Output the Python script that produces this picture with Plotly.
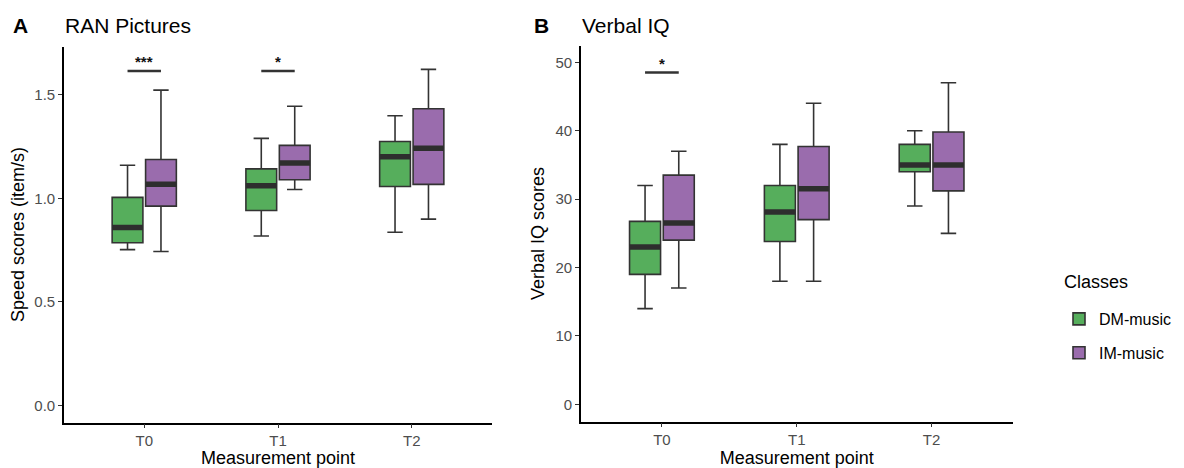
import plotly.graph_objects as go

# ---------------- data ----------------
timepoints = ["T0", "T1", "T2"]
classes = ["DM-music", "IM-music"]

# Panel A: RAN Pictures (speed scores, item/s)
ran_dm_low = [0.752, 0.818, 0.836]
ran_dm_q1 = [0.785, 0.941, 1.057]
ran_dm_med = [0.859, 1.060, 1.200]
ran_dm_q3 = [1.004, 1.142, 1.274]
ran_dm_high = [1.159, 1.289, 1.398]

ran_im_low = [0.743, 1.042, 0.899]
ran_im_q1 = [0.962, 1.089, 1.067]
ran_im_med = [1.067, 1.170, 1.241]
ran_im_q3 = [1.187, 1.255, 1.432]
ran_im_high = [1.522, 1.444, 1.622]

# Panel B: Verbal IQ scores
viq_dm_low = [14, 18, 29]
viq_dm_q1 = [19.0, 23.8, 34.0]
viq_dm_med = [23.0, 28.1, 35.0]
viq_dm_q3 = [26.75, 32.0, 38.0]
viq_dm_high = [32, 38, 40]

viq_im_low = [17, 18, 25]
viq_im_q1 = [24.0, 27.0, 31.2]
viq_im_med = [26.5, 31.5, 35.0]
viq_im_q3 = [33.5, 37.7, 39.8]
viq_im_high = [37, 44, 47]

# significance annotations: (timepoint index, bar height, label)
ran_sig_idx = [0, 1]
ran_sig_y = [1.614, 1.614]
ran_sig_lbl = ["***", "*"]
viq_sig_idx = [0]
viq_sig_y = [48.5]
viq_sig_lbl = ["*"]

ran_yticks = [0.0, 0.5, 1.0, 1.5]
viq_yticks = [0, 10, 20, 30, 40, 50]

# ---------------- style ----------------
GREEN = "#56ae5c"
PURPLE = "#9a6cad"
OUTLINE = "#333333"
FONT = "Liberation Sans, Arial, sans-serif"
DODGE = 0.125
BOXW = 0.23

# page body has a default 8px margin: lay out in window pixels, shifted
OFF = 8
W, H = 1184 - OFF, 468 - OFF


def px(x):
    return (x - OFF) / W


def py(y):
    return 1 - (y - OFF) / H


fig = go.Figure()


def add_panel(xa, ya, dm, im, showlegend):
    for name, stats, col, off in [(classes[0], dm, GREEN, -DODGE), (classes[1], im, PURPLE, DODGE)]:
        low, q1, med, q3, high = stats
        xs = [i + off for i in range(len(timepoints))]
        fig.add_trace(go.Box(
            x=xs, q1=q1, median=med, q3=q3, lowerfence=low, upperfence=high,
            width=BOXW, whiskerwidth=0.5, fillcolor=col,
            line=dict(color=OUTLINE, width=1.6),
            name=name, legendgroup=name, showlegend=showlegend,
            xaxis=xa, yaxis=ya, hoverinfo="skip",
        ))
        # thick median bars
        mx, my = [], []
        for x, m in zip(xs, med):
            mx += [x - BOXW / 2, x + BOXW / 2, None]
            my += [m, m, None]
        fig.add_trace(go.Scatter(
            x=mx, y=my, mode="lines", line=dict(color="#2e2e2e", width=5.5),
            showlegend=False, xaxis=xa, yaxis=ya, hoverinfo="skip",
        ))


def add_sig(xa, ya, idxs, ys, lbls):
    for i, y, l in zip(idxs, ys, lbls):
        fig.add_trace(go.Scatter(
            x=[i - DODGE, i + DODGE], y=[y, y], mode="lines",
            line=dict(color="#333333", width=2.5), showlegend=False,
            xaxis=xa, yaxis=ya, hoverinfo="skip",
        ))
        fig.add_annotation(x=i, y=y, xref=xa, yref=ya, text="<b>" + l + "</b>",
                           showarrow=False, yanchor="bottom", yshift=-1,
                           font=dict(family=FONT, size=15, color="#111111"))


add_panel("x", "y",
          (ran_dm_low, ran_dm_q1, ran_dm_med, ran_dm_q3, ran_dm_high),
          (ran_im_low, ran_im_q1, ran_im_med, ran_im_q3, ran_im_high), True)
add_panel("x2", "y2",
          (viq_dm_low, viq_dm_q1, viq_dm_med, viq_dm_q3, viq_dm_high),
          (viq_im_low, viq_im_q1, viq_im_med, viq_im_q3, viq_im_high), False)
add_sig("x", "y", ran_sig_idx, ran_sig_y, ran_sig_lbl)
add_sig("x2", "y2", viq_sig_idx, viq_sig_y, viq_sig_lbl)

axis_common = dict(
    showline=True, linecolor="black", linewidth=1.6, ticks="outside",
    ticklen=4, tickcolor="#333333", tickwidth=1.2, showgrid=False, zeroline=False,
    automargin=False,
    tickfont=dict(family=FONT, size=15, color="#4d4d4d"),
)

fig.update_layout(
    width=W, height=H, margin=dict(l=0, r=0, t=0, b=0),
    paper_bgcolor="white", plot_bgcolor="white",
    boxmode="overlay",
    font=dict(family=FONT, color="black"),
    xaxis=dict(domain=[px(64), px(492)], range=[-0.6, 2.6],
               tickvals=[0, 1, 2], ticktext=timepoints,
               title=dict(text="Measurement point", font=dict(family=FONT, size=18), standoff=2),
               anchor="y", **axis_common),
    yaxis=dict(domain=[py(422.5), py(46.5)], range=[-0.0825, 1.7325],
               tickvals=ran_yticks, tickformat=".1f",
               title=dict(text="Speed scores (item/s)", font=dict(family=FONT, size=18), standoff=6),
               anchor="x", **axis_common),
    xaxis2=dict(domain=[px(581), px(1012.5)], range=[-0.6, 2.6],
                tickvals=[0, 1, 2], ticktext=timepoints,
                title=dict(text="Measurement point", font=dict(family=FONT, size=18), standoff=2),
                anchor="y2", **axis_common),
    yaxis2=dict(domain=[py(421.5), py(45.5)], range=[-2.5, 52.45],
                tickvals=viq_yticks,
                title=dict(text="Verbal IQ scores", font=dict(family=FONT, size=18), standoff=6),
                anchor="x2", **axis_common),
    legend=dict(
        x=px(1059), y=py(302), xanchor="left", yanchor="top",
        font=dict(family=FONT, size=16), bgcolor="rgba(0,0,0,0)",
        tracegroupgap=10,
    ),
    showlegend=True,
)

# legend title
fig.add_annotation(x=px(1062), y=py(282), xref="paper", yref="paper",
                   text="Classes", showarrow=False, xanchor="left", yanchor="middle",
                   font=dict(family=FONT, size=18, color="black"))

# panel labels and titles
for x_letter, letter, x_title, title in [(11, "A", 63, "RAN Pictures"), (532, "B", 580, "Verbal IQ")]:
    fig.add_annotation(x=px(x_letter), y=py(25), xref="paper", yref="paper",
                       text="<b>" + letter + "</b>", showarrow=False, xanchor="left",
                       yanchor="middle", font=dict(family=FONT, size=21, color="black"))
    fig.add_annotation(x=px(x_title), y=py(25), xref="paper", yref="paper",
                       text=title, showarrow=False, xanchor="left",
                       yanchor="middle", font=dict(family=FONT, size=21, color="black"))

fig.write_html("out.html")
